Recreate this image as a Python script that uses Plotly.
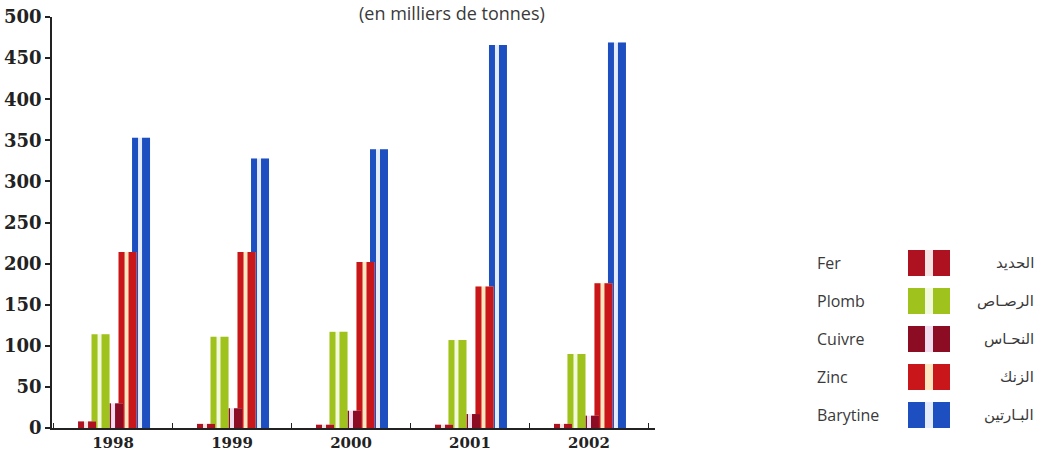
import plotly.graph_objects as go

# ---------------- data ----------------
years = ["1998", "1999", "2000", "2001", "2002"]
series_fr = ["Fer", "Plomb", "Cuivre", "Zinc", "Barytine"]
series_ar = ["الحديد", "الرصـاص", "النحـاس", "الزنك", "البـارتين"]
fer = [8, 5, 4, 4, 5]
plomb = [114, 111, 117, 107, 90]
cuivre = [30, 24, 21, 17, 15]
zinc = [214, 214, 202, 172, 176]
barytine = [353, 328, 339, 466, 469]
y_ticks = [0, 50, 100, 150, 200, 250, 300, 350, 400, 450, 500]
subtitle = "(en milliers de tonnes)"

series_values = [fer, plomb, cuivre, zinc, barytine]

# ---------------- style ----------------
colors = ["#ae1220", "#9fc21c", "#8c0c24", "#c8161a", "#1e4fc0"]
light = ["#f6e4e4", "#f3f9dc", "#f2dcef", "#fde6c0", "#e4ecfb"]

W, H = 1040, 452
ML, MR, MT, MB = 52, 385, 17, 24
PW = W - ML - MR
PH = H - MT - MB
X_RANGE = [-0.513, 4.555]
PX_PER_UNIT = PW / (X_RANGE[1] - X_RANGE[0])


def u(p):
    return p / PX_PER_UNIT


def paper_x(p):
    return (p - ML) / PW


def paper_y(p):
    return (H - MB - p) / PH


starts = [-35, -21.5, -8, 5.5, 19]
LEFT_W, GAP, RIGHT_W = 6, 4, 8

fig = go.Figure()
for i in reversed(range(len(series_fr))):
    vals = series_values[i]
    s = starts[i]
    fig.add_bar(x=years, y=vals, offset=u(s), width=u(LEFT_W + GAP + RIGHT_W),
                marker=dict(color=light[i], line=dict(width=0)), showlegend=False,
                hoverinfo="skip")
    fig.add_bar(x=years, y=vals, offset=u(s), width=u(LEFT_W),
                marker=dict(color=colors[i], line=dict(width=0)), showlegend=False,
                name=series_fr[i])
    fig.add_bar(x=years, y=vals, offset=u(s + LEFT_W + GAP), width=u(RIGHT_W),
                marker=dict(color=colors[i], line=dict(width=0)), showlegend=False,
                name=series_fr[i])

fig.update_layout(
    width=W, height=H,
    margin=dict(l=ML, r=MR, t=MT, b=MB, autoexpand=False),
    plot_bgcolor="white", paper_bgcolor="white",
    barmode="overlay",
    showlegend=False,
    xaxis=dict(type="category", range=X_RANGE, tickson="boundaries", ticks="inside",
               ticklen=5, tickcolor="#222", tickwidth=1.2, showline=True,
               linecolor="#222", linewidth=1.5, showgrid=False, zeroline=False,
               tickfont=dict(family="DejaVu Serif", size=15, color="#222", weight="bold"),
               automargin=False),
    yaxis=dict(range=[0, 500], tickvals=y_ticks, ticks="outside", ticklen=5,
               tickcolor="#222", tickwidth=1.5, showline=True, linecolor="#222",
               linewidth=1.5, showgrid=False, zeroline=False,
               tickfont=dict(family="DejaVu Serif", size=18, color="#222", weight="bold"),
               automargin=False),
)

fig.add_annotation(text=subtitle, xref="paper", yref="paper", x=paper_x(452),
                   y=paper_y(13), xanchor="center", yanchor="middle", showarrow=False,
                   font=dict(family="Open Sans", size=18, color="#3a3a3a"))

# custom legend
for i in range(len(series_fr)):
    cy = 263 + 38 * i
    y0, y1 = paper_y(cy + 13), paper_y(cy - 13)
    fig.add_shape(type="rect", xref="paper", yref="paper", x0=paper_x(908), x1=paper_x(950),
                  y0=y0, y1=y1, fillcolor=light[i], line=dict(width=0))
    fig.add_shape(type="rect", xref="paper", yref="paper", x0=paper_x(908), x1=paper_x(925),
                  y0=y0, y1=y1, fillcolor=colors[i], line=dict(width=0))
    fig.add_shape(type="rect", xref="paper", yref="paper", x0=paper_x(933), x1=paper_x(950),
                  y0=y0, y1=y1, fillcolor=colors[i], line=dict(width=0))
    fig.add_annotation(text=series_fr[i], xref="paper", yref="paper", x=paper_x(815),
                       y=paper_y(cy), xanchor="left", yanchor="middle", showarrow=False,
                       font=dict(family="Open Sans", size=16, color="#3a3a3a"))
    fig.add_annotation(text=series_ar[i], xref="paper", yref="paper", x=paper_x(1036),
                       y=paper_y(cy), xanchor="right", yanchor="middle", showarrow=False,
                       font=dict(family="DejaVu Sans", size=15, color="#3a3a3a"))

fig.write_html("out.html", config={"displayModeBar": False},
               post_script="document.body.style.margin='0px';document.body.style.overflow='hidden';")
